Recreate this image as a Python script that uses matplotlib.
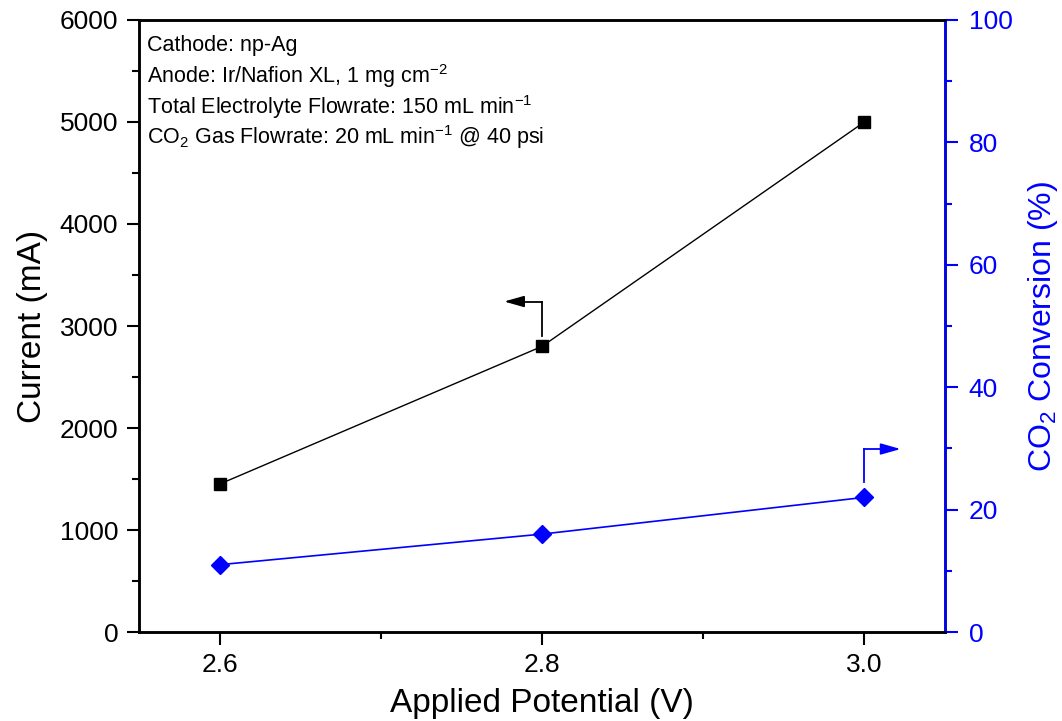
import numpy as np
import matplotlib
matplotlib.use('Agg')
import matplotlib.pyplot as plt
from matplotlib.ticker import MultipleLocator

plt.rcParams['font.family'] = ['Liberation Sans', 'DejaVu Sans']
plt.rcParams['mathtext.fontset'] = 'custom'
plt.rcParams['mathtext.rm'] = 'Liberation Sans'
plt.rcParams['mathtext.it'] = 'Liberation Sans'

potential = [2.6, 2.8, 3.0]
current = [1450, 2800, 5000]
conversion = [11.0, 16.0, 22.0]

fig = plt.figure(figsize=(10.62, 7.21), dpi=100)
ax = fig.add_axes([0.1309, 0.1234, 0.7589, 0.8489])
ax2 = ax.twinx()

ax.plot(potential, current, color='black', lw=1, marker='s', ms=9, zorder=3)
ax2.plot(potential, conversion, color='blue', lw=1.2, marker='D', ms=9, zorder=3)

ax.set_xlim(2.55, 3.05)
ax.set_ylim(0, 6000)
ax2.set_ylim(0, 100)
ax.set_xticks([2.6, 2.8, 3.0])
ax.set_xticklabels(['2.6', '2.8', '3.0'])
ax.xaxis.set_minor_locator(MultipleLocator(0.1))
ax.yaxis.set_major_locator(MultipleLocator(1000))
ax.yaxis.set_minor_locator(MultipleLocator(500))
ax2.yaxis.set_major_locator(MultipleLocator(20))
ax2.yaxis.set_minor_locator(MultipleLocator(10))

for a in (ax, ax2):
    for s in a.spines.values():
        s.set_linewidth(1.8)
ax2.spines['right'].set_color('blue')
ax.tick_params(which='major', direction='out', length=9, width=1.5, labelsize=19, pad=6)
ax.tick_params(which='minor', direction='out', length=5, width=1.5)
ax2.tick_params(which='major', direction='out', length=9, width=1.5, labelsize=19,
                colors='blue', pad=8)
ax2.tick_params(which='minor', direction='out', length=5, width=1.5, colors='blue')

ax.set_xlabel('Applied Potential (V)', fontsize=24, labelpad=8)
ax.set_ylabel('Current (mA)', fontsize=24, labelpad=8)
ax2.set_ylabel('CO$_2$ Conversion (%)', fontsize=23, color='blue', labelpad=10)

# axis indicator arrows
head = '-|>,head_length=0.6,head_width=0.17'
x0, y0 = potential[1], current[1]
ax.plot([x0, x0], [y0 + 100, 3240], color='black', lw=1.3)
ax.plot([x0, x0 - 0.013], [3240, 3240], color='black', lw=1.3)
ax.annotate('', xy=(x0 - 0.0235, 3240), xytext=(x0 - 0.012, 3240),
            arrowprops=dict(arrowstyle=head, color='black', lw=1.3, mutation_scale=20,
                            shrinkA=0, shrinkB=0))
x1, y1 = potential[2], conversion[2]
ax2.plot([x1, x1], [y1 + 2.5, 29.9], color='blue', lw=1.3)
ax2.plot([x1, x1 + 0.013], [29.9, 29.9], color='blue', lw=1.3)
ax2.annotate('', xy=(x1 + 0.0225, 29.9), xytext=(x1 + 0.012, 29.9),
             arrowprops=dict(arrowstyle=head, color='blue', lw=1.3, mutation_scale=20,
                             shrinkA=0, shrinkB=0))

lines = ['Cathode: np-Ag',
         'Anode: Ir/Nafion XL, 1 mg cm$^{-2}$',
         'Total Electrolyte Flowrate: 150 mL min$^{-1}$',
         'CO$_2$ Gas Flowrate: 20 mL min$^{-1}$ @ 40 psi']
for k, t in enumerate(lines):
    ax.text(0.01, 0.958 - k * 0.05, t, transform=ax.transAxes, fontsize=15.5,
            va='center', ha='left')

fig.savefig('out.png', dpi=100)
